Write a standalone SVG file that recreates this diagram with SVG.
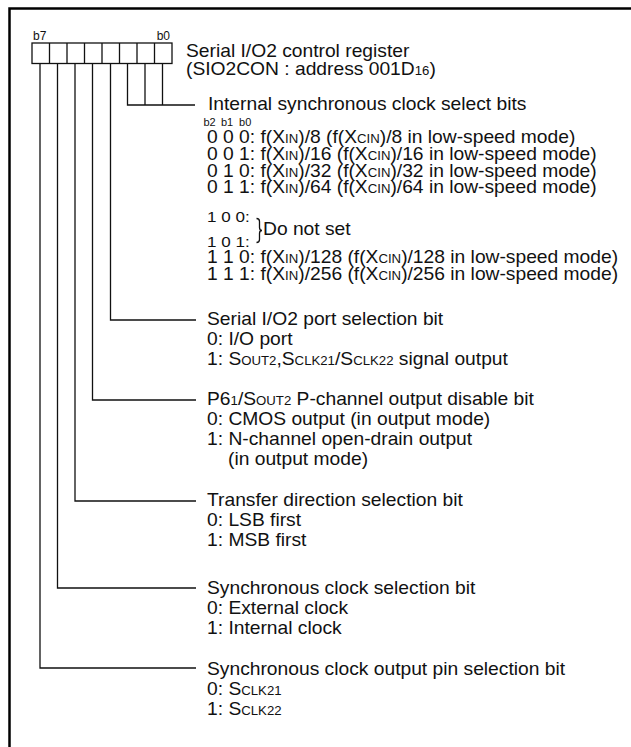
<svg xmlns="http://www.w3.org/2000/svg" width="631" height="747" viewBox="0 0 631 747">
<style>
text{font-family:"Liberation Sans",Arial,sans-serif;font-size:17.5px;fill:#111}
.s{font-size:12px}
.lab{font-size:12px}
.tiny{font-size:10px}
.ln{fill:none;stroke:#111;stroke-width:1.3}
.frame{fill:none;stroke:#000;stroke-width:2.5}
</style>
<rect width="631" height="747" fill="#fff"/>
<path class="frame" d="M9.5 747 V8.5 H631"/>
<g id="register">
<rect class="ln" x="32" y="43" width="140" height="20.5" fill="#fff"/>
<path class="ln" d="M49.5 43v20.5M67 43v20.5M84.5 43v20.5M102 43v20.5M119.5 43v20.5M137 43v20.5M154.5 43v20.5"/>
<text class="lab" x="33" y="40">b7</text>
<text class="lab" x="170" y="40" text-anchor="end">b0</text>
</g>
<g id="title" transform="scale(1.1 1)">
<text x="169.1" y="57">Serial I/O2 control register</text>
<text x="169.1" y="75">(SIO2CON : address 001D<tspan class="s">16</tspan>)</text>
</g>
<g id="connectors">
<path class="ln" d="M127.5 63.5V105H195M145 63.5V105M162.5 63.5V105"/>
<path class="ln" d="M110.5 63.5V320H196"/>
<path class="ln" d="M92.5 63.5V400H196"/>
<path class="ln" d="M75 63.5V501H196"/>
<path class="ln" d="M57.5 63.5V588H196"/>
<path class="ln" d="M40 63.5V668H196"/>
</g>
<g id="clock-select">
<g transform="scale(1.1 1)">
<text x="189.1" y="110">Internal synchronous clock select bits</text>
<text class="tiny" x="185" y="126">b2</text>
<text class="tiny" x="200.9" y="126">b1</text>
<text class="tiny" x="217.3" y="126">b0</text>
<text x="188.2" y="143.5">0 0 0: f(X<tspan class="s">IN</tspan>)/8 (f(X<tspan class="s">CIN</tspan>)/8 in low-speed mode)</text>
<text x="188.2" y="160.5">0 0 1: f(X<tspan class="s">IN</tspan>)/16 (f(X<tspan class="s">CIN</tspan>)/16 in low-speed mode)</text>
<text x="188.2" y="177">0 1 0: f(X<tspan class="s">IN</tspan>)/32 (f(X<tspan class="s">CIN</tspan>)/32 in low-speed mode)</text>
<text x="188.2" y="193.5">0 1 1: f(X<tspan class="s">IN</tspan>)/64 (f(X<tspan class="s">CIN</tspan>)/64 in low-speed mode)</text>
<text x="188.2" y="222" style="font-size:15.5px">1 0 0:</text>
<text x="188.2" y="247.5" style="font-size:15.5px">1 0 1:</text>
<text x="239.1" y="235">Do not set</text>
<text x="188.2" y="263">1 1 0: f(X<tspan class="s">IN</tspan>)/128 (f(X<tspan class="s">CIN</tspan>)/128 in low-speed mode)</text>
<text x="188.2" y="280">1 1 1: f(X<tspan class="s">IN</tspan>)/256 (f(X<tspan class="s">CIN</tspan>)/256 in low-speed mode)</text>
</g>
<path class="ln" d="M256.5 218.5q3 0 3 3v6q0 3 2.5 3q-2.5 0 -2.5 3v6q0 3 -3 3" stroke-width="1"/>
</g>
<g id="port-select" transform="scale(1.1 1)">
<text x="188.2" y="325">Serial I/O2 port selection bit</text>
<text x="188.2" y="345">0: I/O port</text>
<text x="188.2" y="365">1: S<tspan class="s">OUT2</tspan>,S<tspan class="s">CLK21</tspan>/S<tspan class="s">CLK22</tspan> signal output</text>
</g>
<g id="pch-disable" transform="scale(1.1 1)">
<text x="188.2" y="405">P6<tspan class="s">1</tspan>/S<tspan class="s">OUT2</tspan> P-channel output disable bit</text>
<text x="188.2" y="425">0: CMOS output (in output mode)</text>
<text x="188.2" y="445">1: N-channel open-drain output</text>
<text x="207.3" y="465">(in output mode)</text>
</g>
<g id="transfer-dir" transform="scale(1.1 1)">
<text x="188.2" y="506">Transfer direction selection bit</text>
<text x="188.2" y="526">0: LSB first</text>
<text x="188.2" y="546">1: MSB first</text>
</g>
<g id="sync-clock" transform="scale(1.1 1)">
<text x="188.2" y="594">Synchronous clock selection bit</text>
<text x="188.2" y="614">0: External clock</text>
<text x="188.2" y="634">1: Internal clock</text>
</g>
<g id="clock-pin" transform="scale(1.1 1)">
<text x="188.2" y="675">Synchronous clock output pin selection bit</text>
<text x="188.2" y="695">0: S<tspan class="s">CLK21</tspan></text>
<text x="188.2" y="715">1: S<tspan class="s">CLK22</tspan></text>
</g>
</svg>
